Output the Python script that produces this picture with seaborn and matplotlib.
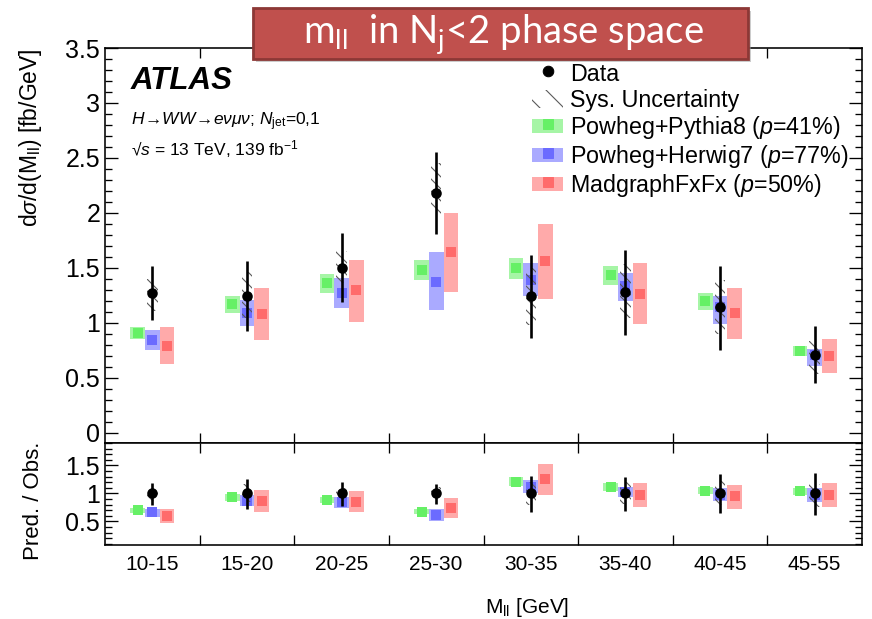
import numpy as np
import pandas as pd
import matplotlib
matplotlib.use("Agg")
import matplotlib.pyplot as plt
import seaborn as sns
from matplotlib.patches import Patch, Rectangle
from matplotlib.lines import Line2D
from matplotlib.legend_handler import HandlerTuple, HandlerPatch
from matplotlib.ticker import MultipleLocator, FixedLocator, FuncFormatter, NullFormatter

# ---------------- data ----------------
bins = ["10-15", "15-20", "20-25", "25-30", "30-35", "35-40", "40-45", "45-55"]

data_val = [1.27, 1.245, 1.50, 2.18, 1.24, 1.275, 1.14, 0.71]
data_tot_lo = [1.02, 0.92, 1.19, 1.81, 0.86, 0.89, 0.75, 0.45]
data_tot_hi = [1.52, 1.56, 1.82, 2.55, 1.62, 1.66, 1.52, 0.97]
data_sys_lo = [1.11, 1.04, 1.36, 1.99, 0.98, 1.04, 0.90, 0.53]
data_sys_hi = [1.40, 1.46, 1.65, 2.45, 1.50, 1.53, 1.39, 0.83]

py8_val = [0.91, 1.17, 1.36, 1.48, 1.50, 1.43, 1.20, 0.745]
py8_lo = [0.85, 1.09, 1.27, 1.39, 1.40, 1.34, 1.12, 0.70]
py8_hi = [0.96, 1.24, 1.44, 1.575, 1.59, 1.52, 1.27, 0.79]

hw7_val = [0.84, 1.09, 1.27, 1.37, 1.39, 1.33, 1.145, 0.71]
hw7_lo = [0.75, 0.97, 1.13, 1.115, 1.24, 1.20, 0.99, 0.61]
hw7_hi = [0.93, 1.21, 1.41, 1.64, 1.54, 1.45, 1.24, 0.76]

mg_val = [0.79, 1.08, 1.30, 1.64, 1.56, 1.26, 1.085, 0.70]
mg_lo = [0.62, 0.84, 1.01, 1.28, 1.22, 0.985, 0.85, 0.54]
mg_hi = [0.96, 1.32, 1.575, 2.00, 1.90, 1.54, 1.32, 0.85]

# ratio panel (Pred. / Obs.)
r_data_val = [1.0, 1.0, 1.0, 1.0, 1.0, 1.0, 1.0, 1.0]
r_data_tot_lo = [0.79, 0.72, 0.775, 0.82, 0.675, 0.69, 0.645, 0.615]
r_data_tot_hi = [1.195, 1.25, 1.21, 1.17, 1.31, 1.30, 1.34, 1.37]
r_data_sys_lo = [0.87, 0.84, 0.90, 0.91, 0.79, 0.82, 0.79, 0.75]
r_data_sys_hi = [1.10, 1.17, 1.10, 1.12, 1.21, 1.20, 1.22, 1.17]

r_py8_val = [0.70, 0.93, 0.89, 0.675, 1.21, 1.12, 1.05, 1.04]
r_py8_lo = [0.657, 0.87, 0.835, 0.635, 1.135, 1.05, 0.985, 0.98]
r_py8_hi = [0.743, 0.99, 0.945, 0.715, 1.285, 1.19, 1.115, 1.10]

r_hw7_val = [0.66, 0.87, 0.845, 0.615, 1.12, 1.03, 0.98, 0.98]
r_hw7_lo = [0.575, 0.775, 0.745, 0.50, 1.00, 0.93, 0.86, 0.85]
r_hw7_hi = [0.73, 0.97, 0.94, 0.73, 1.24, 1.12, 1.09, 1.09]

r_mg_val = [0.60, 0.86, 0.85, 0.745, 1.25, 0.97, 0.95, 0.98]
r_mg_lo = [0.47, 0.675, 0.66, 0.57, 0.97, 0.76, 0.72, 0.76]
r_mg_hi = [0.73, 1.06, 1.04, 0.91, 1.53, 1.195, 1.15, 1.19]

legend_labels = ["Data", "Sys. Uncertainty",
                 r"Powheg+Pythia8 ($p$=41%)",
                 r"Powheg+Herwig7 ($p$=77%)",
                 r"MadgraphFxFx ($p$=50%)"]

# ---------------- style ----------------
DPI = 72
S = 100 / 72  # sizes below were tuned in points at 100 dpi

sns.set_style("ticks")
plt.rcParams.update({
    "font.family": ["Liberation Sans", "DejaVu Sans"],
    "mathtext.fontset": "custom",
    "mathtext.rm": "Liberation Sans",
    "mathtext.it": "Liberation Sans:italic",
    "mathtext.bf": "Liberation Sans:bold",
    "mathtext.sf": "Liberation Sans",
    "axes.linewidth": 1.15 * S,
    "axes.edgecolor": "black",
    "text.color": "black",
    "axes.labelcolor": "black",
    "xtick.color": "black",
    "ytick.color": "black",
    "hatch.linewidth": 0.8 * S,
    "hatch.color": "#5a5a5a",
    "xtick.direction": "in",
    "ytick.direction": "in",
})

W, H = 872, 619
fig = plt.figure(figsize=(W / DPI, H / DPI), dpi=DPI)
L, R = 105, 862
ax = fig.add_axes([L / W, 1 - 443 / H, (R - L) / W, (443 - 48) / H])
axr = fig.add_axes([L / W, 1 - 545 / H, (R - L) / W, (545 - 443) / H])

x = np.arange(len(bins)) + 0.5
bw = 0.155
off = {"py8": -0.155, "hw7": 0.0, "mg": 0.155}
band_col = {"py8": "#a6f5a6", "hw7": "#aaaaff", "mg": "#ffaaaa"}
mark_col = {"py8": "#66f066", "hw7": "#6b6bff", "mg": "#ff6b6b"}
hatch_col = "#5a5a5a"
msq = (7.6 * S) ** 2


def draw_panel(a, d, dlo, dhi, slo, shi, preds):
    for key, (c, lo, hi) in preds.items():
        lo = np.asarray(lo); hi = np.asarray(hi)
        a.bar(x + off[key], hi - lo, bottom=lo, width=bw, color=band_col[key],
              linewidth=0, zorder=2)
        sns.scatterplot(x=x + off[key], y=c, marker="s", s=msq, color=mark_col[key],
                        linewidth=0, ax=a, zorder=3, legend=False)
    slo = np.asarray(slo); shi = np.asarray(shi)
    a.bar(x, shi - slo, bottom=slo, width=0.11, facecolor="none", edgecolor=hatch_col,
          linewidth=0, hatch="\\\\", zorder=4)
    a.vlines(x, dlo, dhi, color="black", lw=1.9 * S, zorder=5)
    sns.scatterplot(x=x, y=d, color="black", s=msq, linewidth=0, ax=a, zorder=6, legend=False)


draw_panel(ax, data_val, data_tot_lo, data_tot_hi, data_sys_lo, data_sys_hi,
           {"py8": (py8_val, py8_lo, py8_hi), "hw7": (hw7_val, hw7_lo, hw7_hi),
            "mg": (mg_val, mg_lo, mg_hi)})
draw_panel(axr, r_data_val, r_data_tot_lo, r_data_tot_hi, r_data_sys_lo, r_data_sys_hi,
           {"py8": (r_py8_val, r_py8_lo, r_py8_hi), "hw7": (r_hw7_val, r_hw7_lo, r_hw7_hi),
            "mg": (r_mg_val, r_mg_lo, r_mg_hi)})

# ---------------- axes ----------------
fmt = FuncFormatter(lambda v, p: "%g" % round(v, 2))
for a in (ax, axr):
    a.set_xlim(0, len(bins))
    a.xaxis.set_major_locator(FixedLocator(np.arange(1, len(bins))))
    a.xaxis.set_major_formatter(NullFormatter())
    a.tick_params(axis="x", which="major", top=True, bottom=True, length=7.5 * S,
                  width=0.95 * S)
    a.tick_params(axis="y", which="major", left=True, right=True, length=9.4 * S,
                  width=0.95 * S, labelsize=18 * S, pad=3.5 * S)
    a.tick_params(axis="y", which="minor", left=True, right=True, length=5 * S,
                  width=0.95 * S)
    a.yaxis.set_minor_locator(MultipleLocator(0.1))
    a.yaxis.set_major_formatter(fmt)
    a.set_xlabel("")
    a.set_ylabel("")

ax.set_ylim(-0.095, 3.5)
ax.yaxis.set_major_locator(MultipleLocator(0.5))
ax.xaxis.set_minor_locator(FixedLocator(x))
ax.xaxis.set_minor_formatter(NullFormatter())
ax.tick_params(axis="x", which="minor", length=0)

axr.set_ylim(0.08, 1.9)
axr.yaxis.set_major_locator(FixedLocator([0.5, 1.0, 1.5]))
axr.xaxis.set_minor_locator(FixedLocator(x))
axr.xaxis.set_minor_formatter(FuncFormatter(lambda v, p: bins[int(v)]))
axr.tick_params(axis="x", which="minor", length=0, labelsize=15 * S, pad=7 * S)

ax.set_ylabel(r"d$\sigma$/d(M$_{\rm ll}$) [fb/GeV]", fontsize=16.5 * S, loc="top")
ax.yaxis.set_label_coords(-0.081, 1.0)
axr.set_ylabel("Pred. / Obs.", fontsize=16 * S)
axr.yaxis.set_label_coords(-0.081, 0.43)
axr.set_xlabel(r"M$_{\rm ll}$ [GeV]", fontsize=15 * S)
axr.xaxis.set_label_coords(0.557, -0.5)

# ---------------- annotations ----------------
ax.text(0.034, 0.896, "ATLAS", transform=ax.transAxes, fontsize=22.5 * S,
        fontweight="bold", fontstyle="italic", va="baseline")
ax.text(0.034, 0.805, r"$H\!\rightarrow\!WW\!\rightarrow\!e\nu\mu\nu$; $N_{\rm jet}$=0,1",
        transform=ax.transAxes, fontsize=12.5 * S, va="baseline")
ax.text(0.034, 0.727, "√$s$ = 13 TeV, 139 fb$^{-1}$", transform=ax.transAxes,
        fontsize=12.5 * S, va="baseline")


def band_patch(legend, orig_handle, xdescent, ydescent, width, height, fontsize):
    h = 0.62 * fontsize
    return Rectangle((-xdescent, -ydescent + (height - h) / 2), width, h)


def hatch_patch(legend, orig_handle, xdescent, ydescent, width, height, fontsize):
    h = 0.8 * fontsize
    return Rectangle((-xdescent, -ydescent + (height - h) / 2), width, h)


band_handler = HandlerPatch(patch_func=band_patch)
sys_handle = Patch(facecolor="none", edgecolor=hatch_col, hatch="\\", linewidth=0)
band_handles = {k: Patch(facecolor=band_col[k], linewidth=0) for k in band_col}
handles = [
    Line2D([], [], marker="o", color="black", linestyle="none", markersize=7.6 * S),
    sys_handle,
    (band_handles["py8"],
     Line2D([], [], marker="s", color=mark_col["py8"], linestyle="none", markersize=7.6 * S)),
    (band_handles["hw7"],
     Line2D([], [], marker="s", color=mark_col["hw7"], linestyle="none", markersize=7.6 * S)),
    (band_handles["mg"],
     Line2D([], [], marker="s", color=mark_col["mg"], linestyle="none", markersize=7.6 * S)),
]
hmap = {tuple: HandlerTuple(ndivide=1, pad=0),
        sys_handle: HandlerPatch(patch_func=hatch_patch)}
for p in band_handles.values():
    hmap[p] = band_handler
ax.legend(handles, legend_labels, loc="upper left", bbox_to_anchor=(0.564, 0.966),
          frameon=False, fontsize=16.7 * S, handlelength=1.35, handleheight=1.15,
          handletextpad=0.3, labelspacing=0.08, borderpad=0, borderaxespad=0,
          handler_map=hmap)

# ---------------- banner ----------------
bx0, bx1, by0, by1 = 253, 748, 8, 59
fig.add_artist(Rectangle(((bx0 + 3) / W, 1 - (by1 + 3) / H), (bx1 - bx0) / W, (by1 - by0) / H,
                         transform=fig.transFigure, facecolor="#9a9a9a", alpha=0.5,
                         linewidth=0, zorder=9))
fig.add_artist(Rectangle((bx0 / W, 1 - by1 / H), (bx1 - bx0) / W, (by1 - by0) / H,
                         transform=fig.transFigure, facecolor="#c0504d", edgecolor="#8c3836",
                         linewidth=2.0 * S, zorder=10))
fig.text((bx0 + bx1) / 2 / W + 0.003, 1 - 35 / H,
         r"m$_\mathregular{ll}$  in N$_\mathregular{j}$<2 phase space",
         color="white", fontsize=27.5 * S, family=["Lato", "DejaVu Sans"],
         ha="center", va="center", zorder=11)

fig.savefig("out.png", dpi=DPI)
